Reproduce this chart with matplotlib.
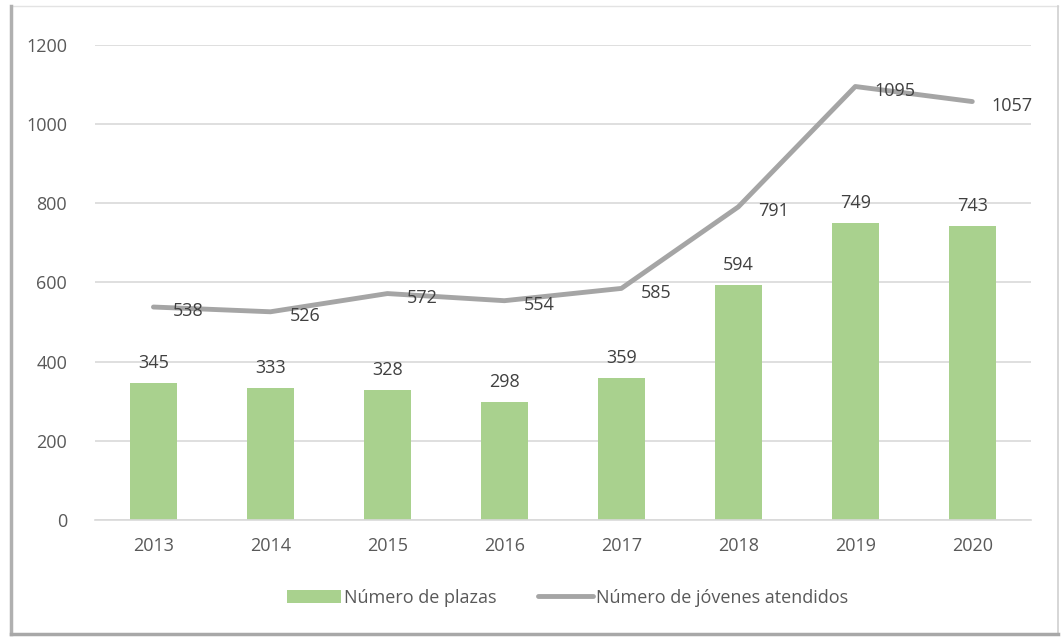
import matplotlib.pyplot as plt
from matplotlib.lines import Line2D
import numpy as np

years = ['2013', '2014', '2015', '2016', '2017', '2018', '2019', '2020']
plazas = [345, 333, 328, 298, 359, 594, 749, 743]
jovenes = [538, 526, 572, 554, 585, 791, 1095, 1057]

bar_color = '#A9D18E'
line_color = '#A5A5A5'
txt_color = '#595959'
lbl_color = '#404040'

plt.rcParams['font.family'] = ['Open Sans', 'DejaVu Sans']

fig = plt.figure(figsize=(10.61, 6.42), dpi=100)
ax = fig.add_axes([0.0895, 0.19, 0.882, 0.74])

x = np.arange(len(years))
bars = ax.bar(x, plazas, width=0.4, color=bar_color, label='Número de plazas', zorder=2)
line, = ax.plot(x, jovenes, color=line_color, lw=3.5, solid_capstyle='round',
                label='Número de jóvenes atendidos', zorder=3)

for xi, v in zip(x, plazas):
    ax.annotate(str(v), (xi, v), xytext=(0, 8), textcoords='offset points',
                ha='center', va='bottom', fontsize=13, color=lbl_color)
for xi, v in zip(x, jovenes):
    ax.annotate(str(v), (xi, v), xytext=(14, -3), textcoords='offset points',
                ha='left', va='center', fontsize=13, color=lbl_color)

ax.set_xlim(-0.5, 7.5)
ax.set_ylim(0, 1200)
ax.set_yticks(range(0, 1201, 200))
ax.set_xticks(x)
ax.set_xticklabels(years)
ax.yaxis.grid(True, color='#D9D9D9', lw=1.2, zorder=0)
ax.set_axisbelow(True)
for s in ['top', 'right', 'left']:
    ax.spines[s].set_visible(False)
ax.spines['bottom'].set_color('#D9D9D9')
ax.spines['bottom'].set_linewidth(1.2)
ax.tick_params(axis='both', length=0, labelsize=13, colors=txt_color, pad=12)
ax.tick_params(axis='y', pad=20)

ax.legend([bars, line], ['Número de plazas', 'Número de jóvenes atendidos'],
          loc='upper center', bbox_to_anchor=(0.505, -0.11), ncol=2, frameon=False,
          fontsize=13, labelcolor=txt_color, handlelength=3, handletextpad=0.2,
          columnspacing=2.3)

# chart border, shadowed on the left and bottom
tf = fig.transFigure
fig.lines.append(Line2D([0.010, 0.997], [0.990, 0.990], transform=tf, color='#E3E3E3', lw=1))
fig.lines.append(Line2D([0.997, 0.997], [0.990, 0.012], transform=tf, color='#D0D0D0', lw=1.2))
fig.lines.append(Line2D([0.010, 0.010], [0.990, 0.012], transform=tf, color='#B0B0B0', lw=2.5))
fig.lines.append(Line2D([0.010, 0.997], [0.012, 0.012], transform=tf, color='#A8A8A8', lw=2.5))

fig.savefig('out.png', dpi=100)
